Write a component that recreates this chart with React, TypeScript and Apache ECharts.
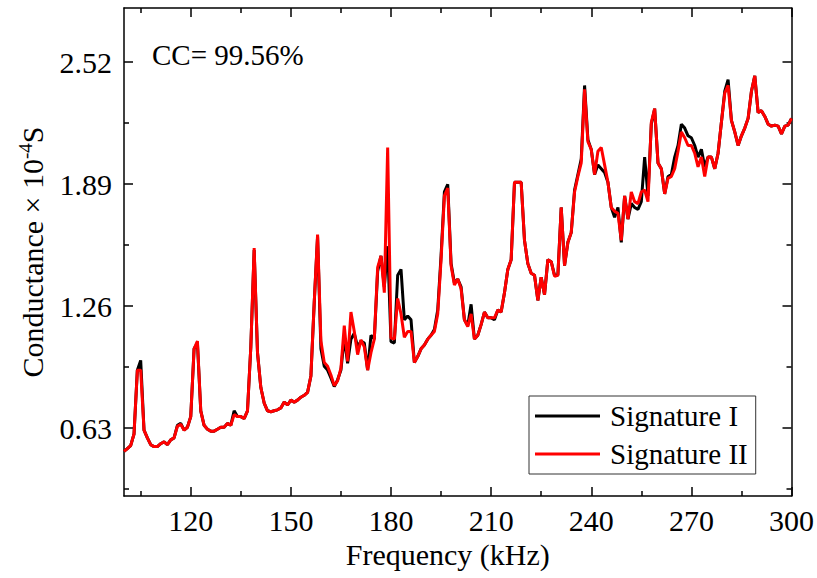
import React, { useEffect, useRef } from "react";
import * as echarts from "echarts";

const freq = [
  100, 101, 102, 103, 104, 105, 106, 107, 108, 109,
  110, 111, 112, 113, 114, 115, 116, 117, 118, 119,
  120, 121, 122, 123, 124, 125, 126, 127, 128, 129,
  130, 131, 132, 133, 134, 135, 136, 137, 138, 139,
  140, 141, 142, 143, 144, 145, 146, 147, 148, 149,
  150, 151, 152, 153, 154, 155, 156, 157, 158, 159,
  160, 161, 162, 163, 164, 165, 166, 167, 168, 169,
  170, 171, 172, 173, 174, 175, 176, 177, 178, 179,
  180, 181, 182, 183, 184, 185, 186, 187, 188, 189,
  190, 191, 192, 193, 194, 195, 196, 197, 198, 199,
  200, 201, 202, 203, 204, 205, 206, 207, 208, 209,
  210, 211, 212, 213, 214, 215, 216, 217, 218, 219,
  220, 221, 222, 223, 224, 225, 226, 227, 228, 229,
  230, 231, 232, 233, 234, 235, 236, 237, 238, 239,
  240, 241, 242, 243, 244, 245, 246, 247, 248, 249,
  250, 251, 252, 253, 254, 255, 256, 257, 258, 259,
  260, 261, 262, 263, 264, 265, 266, 267, 268, 269,
  270, 271, 272, 273, 274, 275, 276, 277, 278, 279,
  280, 281, 282, 283, 284, 285, 286, 287, 288, 289,
  290, 291, 292, 293, 294, 295, 296, 297, 298, 299,
  300,
];

// Signature I (black)
const signature1 = [
  0.51, 0.525, 0.54, 0.6, 0.93, 0.98, 0.62, 0.58, 0.545, 0.535,
  0.535, 0.55, 0.56, 0.545, 0.57, 0.58, 0.645, 0.655, 0.62, 0.635,
  0.69, 1.04, 1.07, 0.72, 0.645, 0.625, 0.615, 0.615, 0.625, 0.635,
  0.635, 0.655, 0.645, 0.72, 0.69, 0.69, 0.68, 0.72, 1.05, 1.55,
  1.02, 0.84, 0.76, 0.72, 0.715, 0.72, 0.725, 0.735, 0.765, 0.75,
  0.775, 0.765, 0.775, 0.79, 0.8, 0.815, 0.9, 1.28, 1.62, 1.04,
  0.95, 0.93, 0.89, 0.845, 0.88, 0.93, 1.1, 0.965, 1.09, 1.12,
  1.05, 1.08, 1.07, 0.93, 1.11, 1.09, 1.44, 1.52, 1.36, 1.57,
  1.077, 1.07, 1.42, 1.45, 1.19, 1.21, 1.19, 0.97, 1.0, 1.04,
  1.06, 1.09, 1.11, 1.14, 1.24, 1.52, 1.85, 1.89, 1.48, 1.38,
  1.4, 1.36, 1.19, 1.16, 1.27, 1.09, 1.11, 1.165, 1.23, 1.2,
  1.2, 1.19, 1.24, 1.23, 1.33, 1.45, 1.5, 1.9, 1.9, 1.9,
  1.6, 1.48, 1.43, 1.42, 1.29, 1.41, 1.32, 1.5, 1.49, 1.42,
  1.42, 1.77, 1.47, 1.59, 1.64, 1.86, 1.94, 2.02, 2.4, 2.12,
  2.07, 1.94, 1.99, 1.97, 1.95, 1.9, 1.77, 1.72, 1.77, 1.59,
  1.83, 1.71, 1.79, 1.77, 1.76, 1.8, 2.03, 1.83, 2.2, 2.28,
  2.0, 1.97, 1.84, 1.93, 1.94, 2.03, 2.09, 2.2, 2.18, 2.14,
  2.13, 2.09, 2.03, 2.07, 1.98, 2.03, 2.03, 1.97, 2.05, 2.21,
  2.37, 2.43, 2.22, 2.16, 2.09, 2.14, 2.18, 2.23, 2.37, 2.45,
  2.26, 2.27, 2.24, 2.2, 2.19, 2.195, 2.19, 2.15, 2.19, 2.195,
  2.23,
];

// Signature II (red)
const signature2 = [
  0.51, 0.525, 0.54, 0.6, 0.93, 0.93, 0.62, 0.58, 0.545, 0.535,
  0.535, 0.55, 0.56, 0.545, 0.57, 0.58, 0.64, 0.65, 0.62, 0.635,
  0.69, 1.04, 1.08, 0.72, 0.645, 0.625, 0.615, 0.615, 0.625, 0.635,
  0.635, 0.655, 0.645, 0.7, 0.69, 0.69, 0.68, 0.72, 1.05, 1.56,
  1.02, 0.84, 0.76, 0.72, 0.715, 0.72, 0.725, 0.735, 0.765, 0.75,
  0.775, 0.765, 0.775, 0.79, 0.8, 0.815, 0.9, 1.28, 1.63, 1.08,
  0.97, 0.95, 0.905, 0.85, 0.875, 0.94, 1.16, 0.975, 1.23, 1.13,
  1.01, 1.086, 1.05, 0.93, 1.02, 1.09, 1.46, 1.52, 1.33, 2.08,
  1.095, 1.09, 1.3, 1.22, 1.1, 1.13, 1.13, 0.97, 1.0, 1.04,
  1.06, 1.09, 1.11, 1.13, 1.22, 1.5, 1.83, 1.87, 1.47, 1.37,
  1.4, 1.35, 1.19, 1.155, 1.22, 1.09, 1.11, 1.165, 1.23, 1.2,
  1.2, 1.2, 1.24, 1.23, 1.33, 1.45, 1.5, 1.9, 1.9, 1.9,
  1.6, 1.48, 1.43, 1.42, 1.29, 1.41, 1.32, 1.5, 1.49, 1.415,
  1.42, 1.77, 1.47, 1.59, 1.64, 1.85, 1.93, 2.0, 2.38, 2.11,
  2.07, 1.94, 2.06, 2.08, 1.99, 1.9, 1.77, 1.75, 1.74, 1.6,
  1.83, 1.71, 1.85, 1.8, 1.79, 1.85, 1.86, 1.8, 2.21, 2.28,
  2.0, 1.97, 1.84, 1.92, 1.93, 1.97, 2.06, 2.16, 2.13, 2.09,
  2.09, 2.05, 1.98, 2.03, 1.93, 2.03, 2.03, 1.97, 2.05, 2.21,
  2.36, 2.4, 2.22, 2.16, 2.09, 2.14, 2.18, 2.23, 2.37, 2.45,
  2.26, 2.27, 2.24, 2.2, 2.19, 2.195, 2.19, 2.15, 2.19, 2.195,
  2.23,
];

const xMajorTicks = [120, 150, 180, 210, 240, 270, 300];
const xMinorTicks = [105, 135, 165, 195, 225, 255, 285];
const yMajorTicks = [0.63, 1.26, 1.89, 2.52];
const yMinorTicks = [0.315, 0.945, 1.575, 2.205];

const FONT = "Liberation Serif";
const FS = 30;
const FS_SMALL = 29;

function xAxisDef(position: string, ticks: number[], len: number, labels: boolean, line: boolean, extra: any = {}) {
  return {
    type: "value",
    position,
    min: 100,
    max: 300,
    axisLine: { show: line, onZero: false, lineStyle: { color: "#000", width: 1.5 } },
    axisTick: { show: true, inside: true, length: len, customValues: ticks, lineStyle: { color: "#000", width: 1.5 } },
    axisLabel: labels
      ? { show: true, customValues: ticks, margin: 9, fontSize: FS, fontFamily: FONT, color: "#000" }
      : { show: false },
    splitLine: { show: false },
    ...extra,
  };
}

function yAxisDef(position: string, ticks: number[], len: number, labels: boolean, line: boolean, extra: any = {}) {
  return {
    type: "value",
    position,
    min: 0.28,
    max: 2.8,
    axisLine: { show: line, onZero: false, lineStyle: { color: "#000", width: 1.5 } },
    axisTick: { show: true, inside: true, length: len, customValues: ticks, lineStyle: { color: "#000", width: 1.5 } },
    axisLabel: labels
      ? { show: true, customValues: ticks, margin: 12, fontSize: FS, fontFamily: FONT, color: "#000", formatter: (v: number) => v.toFixed(2) }
      : { show: false },
    splitLine: { show: false },
    ...extra,
  };
}

export default function App() {
  const ref = useRef<HTMLDivElement>(null);

  useEffect(() => {
    if (!ref.current) return;
    const chart = echarts.init(ref.current, undefined, { renderer: "svg" });
    const option: any = {
      animation: false,
      backgroundColor: "#fff",
      textStyle: { fontFamily: FONT },
      grid: { left: 124, right: 24, top: 8, bottom: 82 },
      xAxis: [
        xAxisDef("bottom", xMajorTicks, 9, true, true, {
          name: "Frequency (kHz)",
          nameLocation: "middle",
          nameGap: 36,
          nameTextStyle: { fontSize: FS, fontFamily: FONT, color: "#000", padding: [0, 20, 0, 0] },
        }),
        xAxisDef("top", xMajorTicks, 9, false, true),
        xAxisDef("bottom", xMinorTicks, 5, false, false),
        xAxisDef("top", xMinorTicks, 5, false, false),
      ],
      yAxis: [
        yAxisDef("left", yMajorTicks, 9, true, true, {
          name: "Conductance × 10{sup|-4}S",
          nameLocation: "middle",
          nameGap: 76,
          nameTextStyle: {
            fontSize: FS,
            fontFamily: FONT,
            color: "#000",
            rich: {
              sup: { fontSize: 19, fontFamily: FONT, color: "#000", verticalAlign: "top", lineHeight: 32 },
            },
          },
        }),
        yAxisDef("right", yMajorTicks, 9, false, true),
        yAxisDef("left", yMinorTicks, 5, false, false),
        yAxisDef("right", yMinorTicks, 5, false, false),
      ],
      legend: {
        orient: "vertical",
        left: 529,
        top: 396,
        padding: [4, 8, 4, 6],
        itemGap: 6,
        itemWidth: 65,
        itemHeight: 3,
        icon: "rect",
        borderColor: "#333",
        borderWidth: 1,
        textStyle: { fontSize: FS_SMALL, fontFamily: FONT, color: "#000", padding: [0, 0, 0, 5], lineHeight: 32 },
        data: ["Signature I", "Signature II"],
      },
      graphic: [
        {
          type: "text",
          left: 152,
          top: 40,
          style: { text: "CC= 99.56%", font: `${FS_SMALL}px ${FONT}`, fill: "#000" },
        },
      ],
      series: [
        {
          name: "Signature I",
          type: "line",
          xAxisIndex: 0,
          yAxisIndex: 0,
          symbol: "none",
          data: freq.map((f, i) => [f, signature1[i]]),
          lineStyle: { color: "#000", width: 3 },
          itemStyle: { color: "#000" },
        },
        {
          name: "Signature II",
          type: "line",
          xAxisIndex: 0,
          yAxisIndex: 0,
          symbol: "none",
          data: freq.map((f, i) => [f, signature2[i]]),
          lineStyle: { color: "#ff0000", width: 3 },
          itemStyle: { color: "#ff0000" },
        },
      ],
    };
    chart.setOption(option);
    return () => chart.dispose();
  }, []);

  return <div ref={ref} style={{ position: "fixed", left: 0, top: 0, width: 817, height: 578 }} />;
}
